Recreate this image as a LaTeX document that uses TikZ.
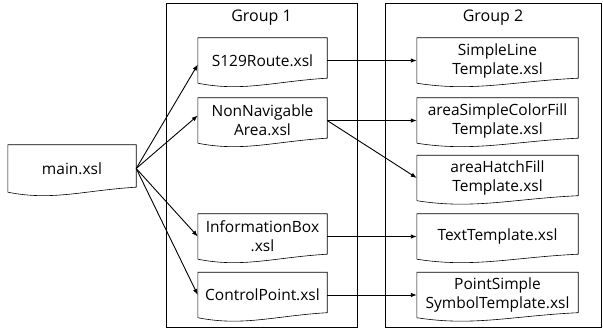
\documentclass[tikz,border=0pt]{standalone}
\usepackage{fontspec}
\setmainfont{Open Sans}
\usetikzlibrary{arrows.meta,calc}

\tikzset{
  docnode/.style={inner sep=0pt, minimum height=45pt, align=center,
    font=\fontsize{15.5}{19}\selectfont},
  grpframe/.style={draw, line width=0.6pt, inner sep=0pt, minimum height=324pt},
  grplabel/.style={anchor=north, font=\fontsize{16}{18}\selectfont},
  link/.style={-{Latex[length=6pt,width=4.5pt]}, line width=0.9pt}
}
% document outline with a wavy bottom edge
\newcommand{\docoutline}[1]{%
  \draw[line width=0.6pt] (#1.south west) -- (#1.north west) -- (#1.north east) -- ([yshift=5pt]#1.south east)
    .. controls ($(#1.south west)!0.6!(#1.south east)+(0,2pt)$)
    and ($(#1.south west)!0.35!(#1.south east)+(0,-9pt)$) .. (#1.south west);}

\begin{document}
\begin{tikzpicture}[x=1pt, y=-1pt]
	\useasboundingbox (0,0) rectangle (603,331);

	% groups
	\node[grpframe, minimum width=191pt] (grpone) at (261.5, 165) {};
	\node[grpframe, minimum width=216pt] (grptwo) at (493, 165) {};
	\node[grplabel] (grponelbl) at ([yshift=-4pt]grpone.north) {Group 1};
	\node[grplabel] (grptwolbl) at ([yshift=-4pt]grptwo.north) {Group 2};

	% files
	\node[docnode, minimum width=128pt, minimum height=47pt] (main) at (72, 168.5) {main.xsl};

	\node[docnode, minimum width=129pt] (sroute) at (262.5, 60.5) {S129Route.xsl};
	\node[docnode, minimum width=129pt] (nonnav) at (262.5, 120.5) {NonNavigable\\Area.xsl};
	\node[docnode, minimum width=129pt] (infobox) at (262.5, 236.5) {InformationBox\\.xsl};
	\node[docnode, minimum width=129pt] (ctrlpt) at (262.5, 295) {ControlPoint.xsl};

	\node[docnode, minimum width=161pt] (simpleline) at (497.5, 60.5) {SimpleLine\\Template.xsl};
	\node[docnode, minimum width=161pt] (colorfill) at (497.5, 120.5) {areaSimpleColorFill\\Template.xsl};
	\node[docnode, minimum width=161pt] (hatchfill) at (497.5, 178) {areaHatchFill\\Template.xsl};
	\node[docnode, minimum width=161pt] (texttpl) at (497.5, 236.5) {TextTemplate.xsl};
	\node[docnode, minimum width=161pt] (pointsym) at (497.5, 295) {PointSimple\\SymbolTemplate.xsl};

	\docoutline{main}
	\docoutline{sroute}
	\docoutline{nonnav}
	\docoutline{infobox}
	\docoutline{ctrlpt}
	\docoutline{simpleline}
	\docoutline{colorfill}
	\docoutline{hatchfill}
	\docoutline{texttpl}
	\docoutline{pointsym}

	% calls
	\draw[link] (main.east) -- ([yshift=-4pt]sroute.west);
	\draw[link] (main.east) -- ([yshift=5pt]nonnav.west);
	\draw[link] (main.east) -- (infobox.west);
	\draw[link] (main.east) -- (ctrlpt.west);

	\draw[link] (sroute.east) -- (simpleline.west);
	\draw[link] (nonnav.east) -- (colorfill.west);
	\draw[link] (nonnav.east) -- (hatchfill.west);
	\draw[link] (infobox.east) -- (texttpl.west);
	\draw[link] (ctrlpt.east) -- (pointsym.west);
\end{tikzpicture}
\end{document}
